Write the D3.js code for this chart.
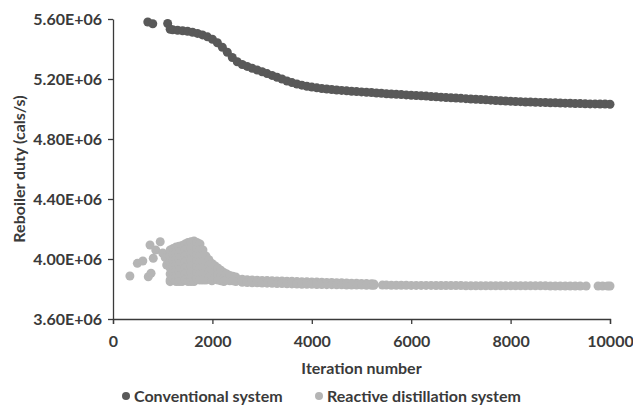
<!DOCTYPE html>
<html>
<head>
<meta charset="utf-8">
<script src="https://cdn.jsdelivr.net/npm/d3@7"></script>
<style>
  body { margin: 0; background: #fff; }
  svg { display: block; }
  text { font-family: Lato, "Open Sans", sans-serif; font-weight: bold; fill: #3a3a3a; }
</style>
</head>
<body>
<svg id="chart" width="633" height="405"></svg>
<script>
// Dados - valores em 1e6 cals/s
const xTicks = [0, 2000, 4000, 6000, 8000, 10000];
const yTicks = [3.6e6, 4.0e6, 4.4e6, 4.8e6, 5.2e6, 5.6e6];
const seriesNames = ["Conventional system", "Reactive distillation system"];
const seriesColors = ["#595959", "#b5b5b5"];

// Sistema convencional: pontos isolados no início
const convStart = [[700, 5.580], [800, 5.568], [1100, 5.570]];
// Sistema convencional: faixa contínua
const convIters = [1150, 1200, 1300, 1400, 1500, 1600, 1700, 1800, 1900, 2000,
  2100, 2200, 2300, 2400, 2500, 2600, 2700, 2800, 2900, 3000,
  3100, 3200, 3300, 3400, 3500, 3600, 3700, 3800, 3900, 4000,
  4100, 4200, 4300, 4400, 4500, 4600, 4700, 4800, 4900, 5000,
  5100, 5200, 5300, 5400, 5500, 5600, 5700, 5800, 5900, 6000,
  6100, 6200, 6300, 6400, 6500, 6600, 6700, 6800, 6900, 7000,
  7100, 7200, 7300, 7400, 7500, 7600, 7700, 7800, 7900, 8000,
  8100, 8200, 8300, 8400, 8500, 8600, 8700, 8800, 8900, 9000,
  9100, 9200, 9300, 9400, 9500, 9600, 9700, 9800, 9900, 10000];
const convValues = [5.532, 5.528, 5.525, 5.522, 5.518, 5.512, 5.504, 5.494, 5.481, 5.465,
  5.442, 5.412, 5.378, 5.343, 5.315, 5.297, 5.284, 5.272, 5.260, 5.248,
  5.236, 5.224, 5.212, 5.200, 5.187, 5.176, 5.167, 5.159, 5.152, 5.146,
  5.141, 5.137, 5.133, 5.130, 5.127, 5.124, 5.121, 5.118, 5.116, 5.114,
  5.112, 5.110, 5.107, 5.105, 5.102, 5.100, 5.098, 5.096, 5.094, 5.092,
  5.090, 5.088, 5.086, 5.083, 5.081, 5.079, 5.077, 5.075, 5.073, 5.071,
  5.069, 5.067, 5.065, 5.063, 5.061, 5.059, 5.057, 5.055, 5.053, 5.052,
  5.050, 5.049, 5.047, 5.046, 5.045, 5.044, 5.043, 5.042, 5.041, 5.040,
  5.039, 5.038, 5.037, 5.036, 5.035, 5.034, 5.034, 5.033, 5.033, 5.032];

// Destilação reativa: pontos isolados
const reacLoose = [[340, 3.887], [490, 3.971], [600, 3.987], [710, 3.882], [765, 3.905],
  [745, 4.093], [810, 4.005], [860, 4.060], [950, 4.115], [1000, 4.040], [1050, 4.010],
  [1080, 3.960], [1150, 3.849]];
// Destilação reativa: nuvem por coluna (iteração, valores)
const reacCloud = [
  { it: 1150, v: [4.060, 4.020, 3.980, 3.940, 3.900, 3.860] },
  { it: 1210, v: [4.070, 4.030, 3.990, 3.950, 3.910, 3.870] },
  { it: 1270, v: [4.080, 4.040, 4.000, 3.960, 3.920, 3.880, 3.850] },
  { it: 1330, v: [4.085, 4.045, 4.005, 3.965, 3.925, 3.885, 3.850] },
  { it: 1390, v: [4.090, 4.050, 4.010, 3.970, 3.930, 3.890, 3.850] },
  { it: 1450, v: [4.100, 4.060, 4.020, 3.980, 3.940, 3.900, 3.860] },
  { it: 1510, v: [4.110, 4.070, 4.030, 3.990, 3.950, 3.910, 3.870, 3.850] },
  { it: 1570, v: [4.115, 4.075, 4.035, 3.995, 3.955, 3.915, 3.875, 3.850] },
  { it: 1630, v: [4.120, 4.080, 4.040, 4.000, 3.960, 3.920, 3.880, 3.850] },
  { it: 1690, v: [4.110, 4.070, 4.030, 3.990, 3.950, 3.910, 3.870] },
  { it: 1750, v: [4.100, 4.060, 4.020, 3.980, 3.940, 3.900, 3.860] },
  { it: 1810, v: [4.060, 4.020, 3.980, 3.940, 3.900, 3.860] },
  { it: 1870, v: [4.020, 3.980, 3.940, 3.900, 3.860] },
  { it: 1930, v: [3.995, 3.955, 3.915, 3.875] },
  { it: 1990, v: [3.970, 3.930, 3.890, 3.855] },
  { it: 2050, v: [3.955, 3.915, 3.875] },
  { it: 2110, v: [3.940, 3.900, 3.860] },
  { it: 2170, v: [3.925, 3.885, 3.855] },
  { it: 2230, v: [3.910, 3.870, 3.850] },
  { it: 2290, v: [3.900, 3.860] },
  { it: 2350, v: [3.890, 3.855] },
  { it: 2410, v: [3.885, 3.855] },
  { it: 2470, v: [3.880, 3.850] }
];
// Destilação reativa: faixa estreita (duas linhas) 2600..5250
const reacBandIters = [2600, 2700, 2800, 2900, 3000, 3100, 3200, 3300, 3400, 3500,
  3600, 3700, 3800, 3900, 4000, 4100, 4200, 4300, 4400, 4500,
  4600, 4700, 4800, 4900, 5000, 5100, 5200, 5250];
const reacBandUpper = [3.865, 3.862, 3.860, 3.858, 3.857, 3.856, 3.855, 3.854, 3.853, 3.852,
  3.851, 3.850, 3.849, 3.848, 3.847, 3.846, 3.845, 3.844, 3.843, 3.842,
  3.841, 3.840, 3.839, 3.838, 3.837, 3.836, 3.835, 3.834];
const reacBandLower = [3.845, 3.843, 3.842, 3.841, 3.840, 3.839, 3.838, 3.837, 3.836, 3.835,
  3.834, 3.833, 3.832, 3.832, 3.831, 3.830, 3.830, 3.829, 3.829, 3.828,
  3.828, 3.827, 3.827, 3.826, 3.826, 3.825, 3.825, 3.825];
// Destilação reativa: linha final 5420..9520 e 9760..10000
const reacTailIters = [5420, 5500, 5600, 5700, 5800, 5900, 6000, 6100, 6200, 6300,
  6400, 6500, 6600, 6700, 6800, 6900, 7000, 7100, 7200, 7300,
  7400, 7500, 7600, 7700, 7800, 7900, 8000, 8100, 8200, 8300,
  8400, 8500, 8600, 8700, 8800, 8900, 9000, 9100, 9200, 9300,
  9400, 9520, 9760, 9850, 9950, 10000];
const reacTailValues = [3.826, 3.826, 3.825, 3.825, 3.825, 3.825, 3.824, 3.824, 3.824, 3.824,
  3.824, 3.823, 3.823, 3.823, 3.823, 3.823, 3.823, 3.822, 3.822, 3.822,
  3.822, 3.822, 3.822, 3.822, 3.822, 3.821, 3.821, 3.821, 3.821, 3.821,
  3.821, 3.821, 3.821, 3.821, 3.820, 3.820, 3.820, 3.820, 3.820, 3.820,
  3.820, 3.820, 3.820, 3.820, 3.820, 3.820];

// Montagem das séries
const conv = convStart.map(d => ({ x: d[0], y: d[1] * 1e6 }))
  .concat(convIters.map((it, i) => ({ x: it, y: convValues[i] * 1e6 })));

let reac = reacLoose.map(d => ({ x: d[0], y: d[1] * 1e6 }));
reacCloud.forEach(c => c.v.forEach(v => reac.push({ x: c.it, y: v * 1e6 })));
reacBandIters.forEach((it, i) => {
  reac.push({ x: it, y: reacBandUpper[i] * 1e6 });
  reac.push({ x: it, y: reacBandLower[i] * 1e6 });
});
reacTailIters.forEach((it, i) => reac.push({ x: it, y: reacTailValues[i] * 1e6 }));

/*
    Plotagem
*/
const svg = d3.select("#chart");
const margin = { left: 113, right: 23, top: 19, bottom: 86 };
const width = 633, height = 405;
const fontSize = 16;

const x = d3.scaleLinear().domain([0, 10000]).range([margin.left, width - margin.right]);
const y = d3.scaleLinear().domain([3.6e6, 5.6e6]).range([height - margin.bottom, margin.top]);

const r = 4.5;

// Pontos
svg.append("g").selectAll("circle")
  .data(reac).enter().append("circle")
  .attr("cx", d => x(d.x)).attr("cy", d => y(d.y)).attr("r", r)
  .attr("fill", seriesColors[1]);

svg.append("g").selectAll("circle")
  .data(conv).enter().append("circle")
  .attr("cx", d => x(d.x)).attr("cy", d => y(d.y)).attr("r", r)
  .attr("fill", seriesColors[0]);

// Eixos
const xAxis = svg.append("g")
  .attr("transform", `translate(0,${height - margin.bottom})`)
  .call(d3.axisBottom(x).tickValues(xTicks).tickSize(5).tickSizeOuter(5).tickFormat(d3.format("d")));

const yAxis = svg.append("g")
  .attr("transform", `translate(${margin.left},0)`)
  .call(d3.axisLeft(y).tickValues(yTicks).tickSize(5).tickSizeOuter(0)
    .tickFormat(d => (d / 1e6).toFixed(2) + "E+06"));

[xAxis, yAxis].forEach(a => {
  a.select(".domain").attr("stroke", "#3a3a3a").attr("stroke-width", 1.3);
  a.selectAll(".tick line").attr("stroke", "#3a3a3a").attr("stroke-width", 1.3);
  a.selectAll(".tick text").attr("font-size", fontSize).attr("fill", "#3a3a3a")
    .style("font-family", "Lato, sans-serif").style("font-weight", "bold");
});
xAxis.selectAll(".tick text").attr("y", 17).attr("dy", "0.71em");
yAxis.selectAll(".tick text").attr("x", -11).attr("dy", "0.35em");

// Títulos dos eixos
svg.append("text")
  .attr("x", (x(0) + x(10000)) / 2).attr("y", 374)
  .attr("text-anchor", "middle").attr("font-size", fontSize)
  .text("Iteration number");

svg.append("text")
  .attr("transform", `translate(25,${(y(3.6e6) + y(5.6e6)) / 2}) rotate(-90)`)
  .attr("text-anchor", "middle").attr("font-size", fontSize)
  .text("Reboiler duty (cals/s)");

// Legenda
const legendX = [126, 319];
const legend = svg.append("g").selectAll("g")
  .data(seriesNames).enter().append("g")
  .attr("transform", (d, i) => `translate(${legendX[i]},396)`);
legend.append("circle").attr("r", 4).attr("fill", (d, i) => seriesColors[i]);
legend.append("text").attr("x", 8).attr("dy", "0.35em").attr("font-size", fontSize).text(d => d);
</script>
</body>
</html>
